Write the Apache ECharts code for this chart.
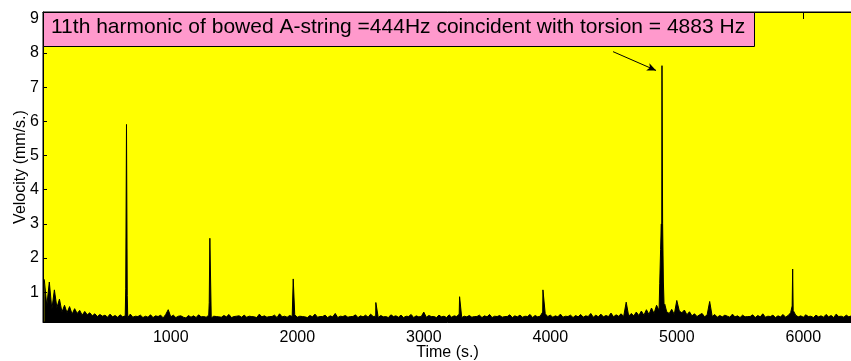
<!DOCTYPE html>
<html>
<head>
<meta charset="utf-8">
<script src="https://cdn.jsdelivr.net/npm/echarts@6/dist/echarts.min.js"></script>
<style>
html,body{margin:0;padding:0;background:#fff;}
#chart{width:851px;height:361px;}
</style>
</head>
<body>
<div id="chart"></div>
<script>
// Sampled spectrum: frequency grid start/step and velocity values (mm/s)
const freqStart = 0;
const freqStep = 20;
const velocity = [
  1.38,0.60,1.30,0.50,1.07,0.55,0.80,0.42,0.62,0.40,
  0.58,0.36,0.52,0.38,0.47,0.33,0.44,0.34,0.40,0.31,
  0.37,0.29,0.35,0.30,0.33,0.27,0.36,0.28,0.32,0.27,
  0.34,0.28,0.31,0.26,0.36,0.27,0.30,0.29,0.33,0.26,
  0.30,0.27,0.34,0.26,0.31,0.29,0.33,0.25,0.35,0.49,
  0.28,0.33,0.26,0.30,0.31,0.27,0.25,0.32,0.27,0.31,
  0.26,0.34,0.28,0.29,0.27,0.33,0.25,0.30,0.29,0.28,
  0.27,0.32,0.28,0.35,0.26,0.29,0.30,0.31,0.27,0.33,
  0.27,0.30,0.29,0.28,0.26,0.36,0.28,0.31,0.27,0.29,
  0.29,0.33,0.26,0.37,0.28,0.30,0.27,0.32,0.29,0.34,
  0.27,0.30,0.29,0.28,0.26,0.32,0.28,0.36,0.27,0.29,
  0.29,0.33,0.26,0.31,0.28,0.38,0.26,0.30,0.29,0.32,
  0.27,0.29,0.29,0.34,0.26,0.31,0.28,0.33,0.27,0.36,
  0.29,0.30,0.26,0.32,0.28,0.29,0.26,0.34,0.29,0.31,
  0.27,0.33,0.26,0.30,0.29,0.35,0.26,0.31,0.28,0.29,
  0.42,0.27,0.32,0.29,0.29,0.26,0.33,0.28,0.30,0.26,
  0.34,0.27,0.31,0.29,0.36,0.26,0.30,0.28,0.32,0.27,
  0.29,0.29,0.33,0.26,0.31,0.28,0.35,0.26,0.30,0.29,
  0.32,0.27,0.29,0.29,0.34,0.26,0.31,0.28,0.33,0.27,
  0.30,0.29,0.35,0.26,0.32,0.28,0.30,0.42,0.37,0.29,
  0.33,0.27,0.31,0.28,0.36,0.27,0.30,0.29,0.33,0.26,
  0.32,0.28,0.35,0.27,0.31,0.29,0.38,0.27,0.33,0.28,
  0.36,0.28,0.32,0.29,0.39,0.28,0.34,0.30,0.37,0.29,
  0.71,0.30,0.38,0.31,0.42,0.32,0.45,0.33,0.49,0.35,
  0.54,0.38,0.62,0.47,0.40,0.57,0.43,0.38,0.50,0.35,
  0.76,0.45,0.40,0.48,0.34,0.43,0.31,0.37,0.29,0.34,
  0.38,0.28,0.34,0.73,0.29,0.35,0.27,0.32,0.28,0.33,
  0.30,0.27,0.36,0.28,0.31,0.26,0.33,0.28,0.29,0.29,
  0.34,0.26,0.32,0.28,0.37,0.27,0.30,0.29,0.33,0.26,
  0.31,0.28,0.35,0.27,0.32,0.40,0.47,0.33,0.28,0.31,
  0.27,0.34,0.29,0.30,0.26,0.33,0.28,0.31,0.27,0.35,
  0.28,0.32,0.26,0.36,0.29,0.30,0.27,0.33,0.28,0.31
];
// Resonance peaks (frequency, velocity)
const peakFreq = [644,650,656, 1304,1309, 1968, 2621, 3283, 3942,
                  4855,4865,4872,4878,4883,4888,4894,4905, 5912,5916];
const peakVel  = [1.10,5.91,0.90, 0.70,2.58, 1.39, 0.70, 0.87, 1.07,
                  0.60,1.25,2.25,3.00,7.63,3.02,1.30,0.65, 0.60,1.68];
const xTicks = [1000,2000,3000,4000,5000,6000];
const yTicks = [1,2,3,4,5,6,7,8,9];
const annotationText = '11th harmonic of bowed A-string =444Hz coincident with torsion = 4883 Hz';
const arrowFrom = [4496, 8.04];
const arrowTo = [4836, 7.49];

const pts = velocity.map((v, i) => [freqStart + i * freqStep, v]);
peakFreq.forEach((f, i) => pts.push([f, peakVel[i]]));
pts.sort((a, b) => a[0] - b[0]);

const font = 'Liberation Sans, Arial, Helvetica, sans-serif';
const plain = v => String(v);
const chart = echarts.init(document.getElementById('chart'), null, {renderer: 'canvas'});
chart.setOption({
  animation: false,
  backgroundColor: '#ffffff',
  grid: {left: 43, right: -1, top: 12, bottom: 39, show: true, containLabel: false,
         outerBoundsMode: 'none',
         backgroundColor: '#ffff00', borderColor: '#000', borderWidth: 1},
  xAxis: [{
    type: 'value', min: -10, max: 6385, position: 'bottom',
    name: 'Time (s.)', nameLocation: 'middle', nameGap: 23, nameMoveOverlap: false,
    nameTextStyle: {color: '#000', fontSize: 16, fontFamily: font},
    axisLine: {show: true, onZero: false, lineStyle: {color: '#000', width: 1}},
    axisTick: {show: true, inside: true, length: 5, customValues: xTicks, lineStyle: {color: '#000'}},
    axisLabel: {show: true, customValues: xTicks, formatter: plain, color: '#000', fontSize: 16, fontFamily: font, margin: 8},
    splitLine: {show: false}
  }, {
    type: 'value', min: -10, max: 6385, position: 'top',
    axisLine: {show: true, onZero: false, lineStyle: {color: '#000', width: 1}},
    axisTick: {show: true, inside: true, length: 7, customValues: xTicks, lineStyle: {color: '#000'}},
    axisLabel: {show: false},
    splitLine: {show: false}
  }],
  yAxis: {
    type: 'value', min: 0.13, max: 9.2,
    name: 'Velocity (mm/s.)', nameLocation: 'middle', nameGap: 14, nameMoveOverlap: false,
    nameTextStyle: {color: '#000', fontSize: 16, fontFamily: font},
    axisLine: {show: true, onZero: false, lineStyle: {color: '#000', width: 1}},
    axisTick: {show: true, inside: true, length: 4, customValues: yTicks, lineStyle: {color: '#000'}},
    axisLabel: {show: true, customValues: yTicks, formatter: plain, color: '#000', fontSize: 16, fontFamily: font, margin: 4},
    splitLine: {show: false}
  },
  series: [{
    type: 'line', xAxisIndex: 0, data: pts, showSymbol: false, symbol: 'none',
    clip: true,
    lineStyle: {color: '#000', width: 1},
    areaStyle: {color: '#000', opacity: 1},
    markLine: {
      silent: true, symbol: ['none', 'arrow'], symbolSize: [6, 9],
      lineStyle: {color: '#000', width: 1, type: 'solid'},
      label: {show: false},
      data: [[{coord: arrowFrom}, {coord: arrowTo}]]
    }
  }],
  graphic: [{
    type: 'rect', left: 43, top: 12, z: 100,
    shape: {width: 711, height: 34},
    style: {fill: '#ff99cc', stroke: '#000', lineWidth: 1}
  }, {
    type: 'text', left: 51, top: 17, z: 101,
    style: {text: annotationText, fill: '#000', font: '21px ' + font}
  }]
});
</script>
</body>
</html>
